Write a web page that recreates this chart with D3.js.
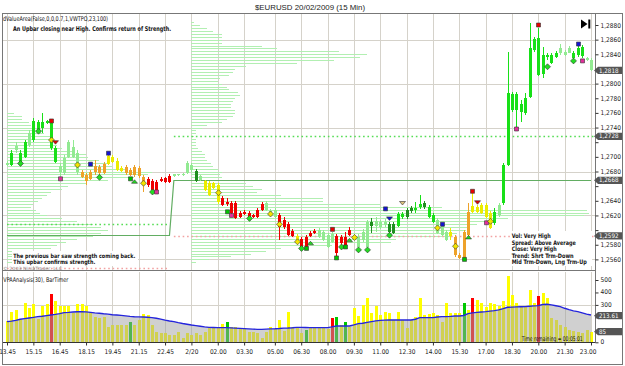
<!DOCTYPE html>
<html>
<head>
<meta charset="utf-8">
<script src="https://cdn.jsdelivr.net/npm/d3@7/dist/d3.min.js"></script>
<style>
  body { margin: 0; background: #fff; }
  svg { display: block; }
</style>
</head>
<body>
<script>
// bar kinds as painted by the VSA indicator
const kind = ['lg','g','lg','g','g','lg','g','g','g','g',
  'g','g','lg','lg','lg','lg','lg','o','o','o',
  'o','o','o','y','y','y','y','o','o','o',
  'o','o','r','r','r','r','r','r','lg','lg',
  'lg','lg','lg','dg','lg','y','y','y','y','r',
  'r','r','r','r','r','r','r','r','r','lg',
  'lg','lg','r','r','r','r','y','r','r','r',
  'r','lg','lg','lg','lg','r','r','r','r','y',
  'lg','lg','lg','dg','lg','lg','lg','dg','dg','g',
  'g','dg','dg','g','g','dg','g','g','lg','lg',
  'lg','y','o','o','o','o','y','y','y','y',
  'y','g','lg','g','g','g','g','g','g','g',
  'g','g','g','g','g','g','lg','lg','lg','g',
  'g','g','lg','lg'];

const open = [1.2689,1.2689,1.2709,1.2690,1.2700,1.2716,1.2723,1.2735,1.2739,1.2746,
  1.2712,1.2712,1.2687,1.2678,1.2700,1.2713,1.2705,1.2679,1.2675,1.2670,
  1.2679,1.2686,1.2678,1.2690,1.2693,1.2694,1.2685,1.2678,1.2682,1.2675,
  1.2685,1.2672,1.2670,1.2667,1.2666,1.2670,1.2671,1.2674,1.2674,1.2675,
  1.2675,1.2678,1.2682,1.2681,1.2668,1.2667,1.2664,1.2657,1.2661,1.2644,
  1.2638,1.2637,1.2637,1.2623,1.2625,1.2623,1.2620,1.2627,1.2635,1.2627,
  1.2623,1.2618,1.2620,1.2614,1.2608,1.2599,1.2592,1.2588,1.2590,1.2596,
  1.2599,1.2590,1.2586,1.2577,1.2584,1.2592,1.2590,1.2590,1.2600,1.2592,
  1.2577,1.2586,1.2577,1.2605,1.2605,1.2604,1.2607,1.2608,1.2596,1.2605,
  1.2618,1.2618,1.2626,1.2627,1.2631,1.2631,1.2631,1.2620,1.2614,1.2607,
  1.2597,1.2597,1.2590,1.2566,1.2559,1.2593,1.2633,1.2631,1.2634,1.2634,
  1.2623,1.2610,1.2620,1.2637,1.2689,1.2764,1.2786,1.2761,1.2760,1.2782,
  1.2846,1.2862,1.2813,1.2836,1.2828,1.2836,1.2842,1.2839,1.2842,1.2835,
  1.2839,1.2838,1.2832,1.2832];
const high = [1.2694,1.2709,1.2720,1.2709,1.2723,1.2737,1.2753,1.2750,1.2760,1.2750,
  1.2747,1.2715,1.2691,1.2702,1.2723,1.2723,1.2709,1.2682,1.2678,1.2682,
  1.2696,1.2689,1.2693,1.2704,1.2702,1.2698,1.2687,1.2689,1.2685,1.2689,
  1.2687,1.2675,1.2672,1.2670,1.2668,1.2672,1.2672,1.2676,1.2677,1.2677,
  1.2678,1.2694,1.2691,1.2683,1.2675,1.2668,1.2667,1.2666,1.2664,1.2646,
  1.2644,1.2640,1.2640,1.2626,1.2627,1.2626,1.2622,1.2630,1.2638,1.2640,
  1.2629,1.2630,1.2623,1.2618,1.2611,1.2601,1.2595,1.2590,1.2593,1.2599,
  1.2601,1.2603,1.2600,1.2596,1.2597,1.2595,1.2593,1.2597,1.2604,1.2595,
  1.2595,1.2601,1.2614,1.2616,1.2618,1.2614,1.2615,1.2611,1.2611,1.2625,
  1.2625,1.2630,1.2633,1.2638,1.2648,1.2640,1.2634,1.2623,1.2616,1.2610,
  1.2600,1.2603,1.2593,1.2569,1.2600,1.2637,1.2651,1.2634,1.2637,1.2637,
  1.2626,1.2630,1.2637,1.2691,1.2843,1.2788,1.2788,1.2778,1.2787,1.2883,
  1.2864,1.2876,1.2850,1.2842,1.2842,1.2844,1.2854,1.2846,1.2851,1.2844,
  1.2851,1.2853,1.2836,1.2835];
const low = [1.2687,1.2687,1.2705,1.2687,1.2698,1.2713,1.2720,1.2732,1.2732,1.2745,
  1.2709,1.2691,1.2671,1.2675,1.2698,1.2698,1.2675,1.2671,1.2661,1.2668,
  1.2675,1.2675,1.2676,1.2689,1.2691,1.2681,1.2679,1.2675,1.2674,1.2672,
  1.2671,1.2652,1.2659,1.2653,1.2652,1.2666,1.2664,1.2664,1.2673,1.2674,
  1.2674,1.2676,1.2679,1.2666,1.2667,1.2653,1.2646,1.2656,1.2635,1.2633,
  1.2633,1.2622,1.2615,1.2616,1.2620,1.2616,1.2616,1.2616,1.2626,1.2626,
  1.2622,1.2616,1.2586,1.2601,1.2592,1.2590,1.2582,1.2575,1.2575,1.2590,
  1.2595,1.2589,1.2585,1.2575,1.2582,1.2562,1.2578,1.2575,1.2592,1.2588,
  1.2574,1.2584,1.2575,1.2596,1.2597,1.2601,1.2604,1.2595,1.2595,1.2604,
  1.2615,1.2615,1.2623,1.2623,1.2629,1.2629,1.2616,1.2610,1.2595,1.2592,
  1.2585,1.2586,1.2563,1.2560,1.2558,1.2592,1.2623,1.2623,1.2622,1.2616,
  1.2601,1.2607,1.2618,1.2634,1.2687,1.2761,1.2739,1.2747,1.2757,1.2780,
  1.2843,1.2810,1.2808,1.2832,1.2827,1.2835,1.2839,1.2838,1.2842,1.2834,
  1.2836,1.2835,1.2831,1.2817];
const close = [1.2691,1.2705,1.2715,1.2705,1.2720,1.2732,1.2749,1.2747,1.2747,1.2749,
  1.2746,1.2693,1.2679,1.2698,1.2720,1.2700,1.2679,1.2672,1.2667,1.2679,
  1.2687,1.2678,1.2690,1.2701,1.2700,1.2682,1.2681,1.2686,1.2675,1.2686,
  1.2674,1.2661,1.2661,1.2655,1.2653,1.2667,1.2666,1.2666,1.2676,1.2676,
  1.2676,1.2691,1.2689,1.2667,1.2674,1.2655,1.2648,1.2664,1.2638,1.2634,
  1.2635,1.2623,1.2616,1.2618,1.2622,1.2618,1.2618,1.2618,1.2627,1.2637,
  1.2626,1.2627,1.2604,1.2604,1.2593,1.2592,1.2584,1.2577,1.2577,1.2592,
  1.2596,1.2600,1.2597,1.2593,1.2595,1.2569,1.2582,1.2577,1.2593,1.2589,
  1.2590,1.2597,1.2611,1.2611,1.2612,1.2611,1.2611,1.2597,1.2608,1.2622,
  1.2622,1.2627,1.2630,1.2630,1.2635,1.2637,1.2618,1.2611,1.2596,1.2593,
  1.2586,1.2592,1.2566,1.2562,1.2597,1.2625,1.2625,1.2625,1.2623,1.2618,
  1.2603,1.2625,1.2634,1.2689,1.2787,1.2786,1.2764,1.2772,1.2780,1.2849,
  1.2861,1.2812,1.2839,1.2839,1.2839,1.2842,1.2849,1.2843,1.2849,1.2842,
  1.2849,1.2850,1.2835,1.2818];

const volume = [174,246,259,185,313,273,305,185,294,305,
  386,334,291,291,291,238,305,305,291,233,
  206,193,206,126,139,139,139,139,161,139,
  179,227,219,139,85,72,77,59,59,85,
  32,72,59,72,59,85,112,112,126,147,
  166,126,126,112,112,85,85,72,32,85,
  126,104,179,91,246,120,112,72,99,126,
  112,112,112,104,198,201,139,166,120,273,
  211,300,353,233,291,219,246,233,179,241,
  179,112,179,206,358,219,227,233,219,166,
  313,233,238,233,318,259,353,340,318,286,
  313,308,291,334,532,380,313,291,291,420,
  313,372,393,353,193,179,139,126,99,93,
  85,72,99,85];
const volumeAvg = [166,170,176,185,190,195,200,206,209,214,
  219,224,230,238,240,243,245,246,244,240,
  236,233,229,226,221,219,216,212,208,205,
  204,203,201,198,193,186,178,171,166,158,
  151,145,139,134,129,124,120,119,118,118,
  118,116,114,112,110,108,106,104,104,106,
  108,109,111,114,115,117,120,120,119,118,
  118,118,118,118,124,131,131,131,131,140,
  150,153,160,166,172,176,178,179,179,179,
  179,179,179,185,198,198,198,198,203,206,
  206,208,211,211,215,230,236,240,243,246,
  250,254,260,270,281,282,284,285,286,289,
  292,294,303,305,300,293,286,273,262,252,
  246,236,226,219];

// [bar, shape, colour, price]
const signals = [
  [3,'diamond','green',1.2691],[7,'diamond','green',1.2735],[10,'square','red',1.2749],
  [10,'diamond','yellow',1.2723],[11,'triDown','red',1.2720],[12,'square','magenta',1.2670],
  [16,'diamond','yellow',1.2689],[19,'square','blue',1.2690],[21,'diamond','green',1.2672],
  [23,'square','blue',1.2705],[28,'square','green',1.2670],[29,'triUp','green',1.2666],
  [31,'diamond','yellow',1.2664],[33,'diamond','green',1.2652],[34,'square','magenta',1.2652],
  [48,'diamond','yellow',1.2651],[50,'square','green',1.2625],[51,'square','magenta',1.2620],
  [55,'diamond','green',1.2616],[60,'diamond','yellow',1.2622],[62,'diamond','yellow',1.2608],
  [66,'diamond','yellow',1.2584],[67,'diamond','green',1.2575],[68,'square','green',1.2575],
  [69,'triUp','green',1.2582],[74,'square','red',1.2601],[75,'square','green',1.2562],
  [76,'diamond','green',1.2577],[77,'square','green',1.2577],[78,'triUp','green',1.2586],
  [79,'diamond','yellow',1.2590],[80,'diamond','green',1.2573],[82,'diamond','green',1.2573],
  [86,'square','blue',1.2629],[87,'triDown','blue',1.2616],[87,'diamond','green',1.2593],
  [90,'triDown','tan',1.2637],[98,'diamond','yellow',1.2603],[99,'square','blue',1.2608],
  [102,'diamond','yellow',1.2578],[104,'square','green',1.2560],[105,'triUp','green',1.2590],
  [106,'square','red',1.2653],[107,'triDown','red',1.2638],[109,'square','magenta',1.2610],
  [110,'diamond','yellow',1.2612],[116,'square','magenta',1.2738],[121,'square','red',1.2880],
  [123,'diamond','green',1.2823],[129,'diamond','green',1.2831],[130,'square','blue',1.2854],
  [131,'square','magenta',1.2831]
];

// value area profiles (TPO counts per 4 pip row, from the top row down)
const profileTop = [1.2760, 1.2884];
const profileStartBar = [0, 42];
const profileRow = 0.0004;
const profileDay1 = [1.5,3.5,3.5,5,5.5,6,8,8.5,10,10.5,
  10.5,11.5,12.5,15,18,18.5,21,23,24,27.5,
  33,32,29,23,18,14,12.5,10,9,8,
  7,6,5.5,6.5,7.5,9,12.5,16,19.5,21.5,
  23,21.5,19.5,16,13.5,11.5,10,9,7,5.5,
  4.5,2.5];
const profileDay2 = [0.5,2,3.5,5,7,7,7,7,16,19.5,
  33.5,40,38.5,32.5,24,12.5,10,9.5,8.5,6.5,
  6,7,8,8.5,10.5,11,10,9.5,9,9,
  10,10,9.5,8,7,3.5,2.5,1,1,0.5,
  1,1,1,1.5,2.5,3,3,3.5,4.5,5,
  6,7,6.5,7,7.5,12.5,14,16,15,20.5,
  30,30,43,57,90,90.5,89.5,72,68.5,65,
  63.5,62.5,60.5,59,46.5,45.5,32,20.5,17,13.5,
  9,4,1];

// session levels: [fromBar, toBar, price, style]
const levels = [
  [0, 37, 1.2608, 'vaGreen'], [38, 134, 1.2728, 'vaGreen'],
  [0, 37, 1.2548, 'vaPink'], [38, 134, 1.2592, 'vaPink']
];
const pocBars = [0, 37, 38, 133];
const pocValues = [1.2593, 1.2593, 1.2668, 1.2668];

const timeLabels = ['13.45','15.15','16.45','18.15','19.45','21.15','22.45','2/20','02.00','03.30',
  '05.00','06.30','08.00','09.30','11.00','12.30','14.00','15.30','17.00','18.30','20.00','21.30','23.00'];
const timeBars = [0,6,12,18,24,30,36,42,48,54,61,67,73,79,85,91,97,103,109,115,121,127,133];
const priceTicks = [1.2560,1.2580,1.2600,1.2620,1.2640,1.2660,1.2680,1.2700,1.2720,1.2740,
  1.2760,1.2780,1.2800,1.2820,1.2840,1.2860,1.2880];
const priceGrid = [1.2560,1.2620,1.2680,1.2740,1.2800,1.2860];
const volumeTicks = [0,100,200,300,400,500];
const priceTags = [1.2818, 1.2728, 1.2668, 1.2592];
const volumeTags = [213.61, 85];

const FONT = '"Liberation Sans Narrow","DejaVu Sans Condensed","Liberation Sans",Arial,sans-serif';
const barColor = { g: '#18e018', lg: '#92ea92', dg: '#1f8f1f', y: '#ecec00', o: '#eea22a', r: '#ee0000' };
const markColor = { green: '#22dd22', yellow: '#f2e400', red: '#e80000', blue: '#1414d2', magenta: '#e0309a', tan: '#dcc27a' };

const x = d3.scaleLinear().domain([0, 133]).range([7, 591]);
const y = d3.scaleLinear().domain([1.2560, 1.2880]).range([259.4, 25]);
const yv = d3.scaleLinear().domain([0, 500]).range([342.3, 280]);
const cx = i => Math.round(x(i));
const fmtPrice = d => d3.format('.4f')(d).replace('.', ',');

const svg = d3.select('body').append('svg')
    .attr('width', 625)
    .attr('height', 366)
    .style('font-family', FONT);

svg.append('rect').attr('width', 625).attr('height', 366).attr('fill', '#fff');

svg.append('clipPath').attr('id', 'mainClip')
  .append('rect').attr('x', 3).attr('y', 14).attr('width', 592).attr('height', 256);

// grid
const grid = svg.append('g').attr('stroke', '#d5d2ca').attr('shape-rendering', 'crispEdges');
grid.selectAll('.gv').data(timeBars).enter().append('line')
    .attr('x1', d => cx(d) + 0.5).attr('x2', d => cx(d) + 0.5)
    .attr('y1', 14).attr('y2', 270);
grid.selectAll('.gvv').data(timeBars).enter().append('line')
    .attr('x1', d => cx(d) + 0.5).attr('x2', d => cx(d) + 0.5)
    .attr('y1', 272).attr('y2', 342);
grid.selectAll('.gh').data(priceGrid).enter().append('line')
    .attr('x1', 3).attr('x2', 595)
    .attr('y1', d => Math.round(y(d)) + 0.5).attr('y2', d => Math.round(y(d)) + 0.5);
grid.append('line')
    .attr('x1', 3).attr('x2', 595)
    .attr('y1', Math.round(yv(300)) + 0.5).attr('y2', Math.round(yv(300)) + 0.5);

const main = svg.append('g').attr('clip-path', 'url(#mainClip)');

// profiles
const step = x(1) - x(0);
const prof = main.append('g').attr('fill', '#b2efb2').attr('shape-rendering', 'crispEdges');
[profileDay1, profileDay2].forEach((rows, s) => {
  prof.selectAll(null).data(rows).enter().append('rect')
      .attr('x', x(profileStartBar[s]))
      .attr('y', (d, k) => Math.round(y(profileTop[s] - k * profileRow)))
      .attr('width', d => d * step)
      .attr('height', 1);
});

// session lines
main.append('path')
    .attr('fill', 'none')
    .attr('stroke', '#62ad62')
    .attr('stroke-width', 1.2)
    .attr('d', d3.line().x(d => x(d[0])).y(d => Math.round(y(d[1])) + 0.5)(pocBars.map((b, i) => [b, pocValues[i]])));

main.selectAll('.lvl').data(levels).enter().append('line')
    .attr('x1', d => x(d[0])).attr('x2', d => x(d[1]))
    .attr('y1', d => Math.round(y(d[2])) + 0.5).attr('y2', d => Math.round(y(d[2])) + 0.5)
    .attr('stroke', d => d[3] === 'vaGreen' ? '#55dd55' : '#f2a2a2')
    .attr('stroke-width', 1.6)
    .attr('stroke-dasharray', '1.6,2.8');

// candles
const bars = d3.range(open.length).map(i => ({ i, o: open[i], h: high[i], l: low[i], c: close[i], k: kind[i] }));
const candle = main.append('g').attr('shape-rendering', 'crispEdges')
  .selectAll('g').data(bars).enter().append('g')
    .attr('fill', d => barColor[d.k]);
candle.append('rect')
    .attr('x', d => cx(d.i)).attr('width', 1)
    .attr('y', d => y(d.h)).attr('height', d => Math.max(1, y(d.l) - y(d.h)));
candle.append('rect')
    .attr('x', d => cx(d.i) - 1).attr('width', 3)
    .attr('y', d => y(Math.max(d.o, d.c)))
    .attr('height', d => Math.max(1, Math.abs(y(d.o) - y(d.c))));

// signal markers
const shapes = {
  square: 'M-2,-2H2V2H-2Z',
  diamond: 'M0,-3L3,0L0,3L-3,0Z',
  triUp: 'M-3,1.5L3,1.5L0,-2Z',
  triDown: 'M-3,-1.5L3,-1.5L0,2Z'
};
main.append('g').selectAll('path').data(signals).enter().append('path')
    .attr('transform', d => `translate(${cx(d[0]) + 0.5},${y(d[3])})`)
    .attr('d', d => shapes[d[1]])
    .attr('fill', d => d[1] === 'square' && d[2] === 'green' ? '#00c400' : markColor[d[2]])
    .attr('stroke', '#333')
    .attr('stroke-width', 0.6);

// text notes
const note = (g, x0, y0, str, w, opts = {}) => g.append('text')
    .attr('x', x0).attr('y', y0)
    .attr('font-size', opts.size || 6.5)
    .attr('font-weight', opts.bold ? 'bold' : null)
    .attr('fill', opts.fill || '#111')
    .attr('textLength', w).attr('lengthAdjust', 'spacingAndGlyphs')
    .text(str);

const notes = svg.append('g');
note(notes, 3, 20.8, 'dValueArea(False,0,0,0.7,1,VWTPO,23,100)', 105);
note(notes, 13, 31, 'An Upbar closing near High. Confirms return of Strength.', 158, { bold: true });
notes.append('rect').attr('x', 12).attr('y', 251).attr('width', 126).attr('height', 15).attr('fill', '#fff');
note(notes, 13.3, 257.6, 'The previous bar saw strength coming back.', 122, { bold: true, size: 6 });
note(notes, 13.3, 264.3, 'This upbar confirms strength.', 82, { bold: true, size: 6 });
note(notes, 3, 269.6, '\u00a9 2003 NinjaTrader, LLC', 59, { size: 4.4, fill: '#8a8a8a' });
notes.append('rect').attr('x', 510).attr('y', 231).attr('width', 82).attr('height', 35).attr('fill', '#fff');
const vsaLines = ['Vol: Very High', 'Spread: Above Average', 'Close: Very High', 'Trend: Shrt Trm-Down', 'Mid Trm-Down, Lng Trm-Up'];
const vsaWidths = [39, 64, 45, 62, 75];
vsaLines.forEach((s, i) => note(notes, 511.7, 238 + i * 6.5, s, vsaWidths[i], { bold: true, size: 6.2 }));

// play-to-end icon
svg.append('path').attr('d', 'M581,19.5L587.5,24L581,28.5Z').attr('fill', '#000');
svg.append('rect').attr('x', 588.3).attr('y', 19.5).attr('width', 2).attr('height', 9).attr('fill', '#000');

// volume panel
const volColorOf = i => {
  const s = signals.find(d => d[0] === i && d[1] === 'square' && (d[2] === 'red' || d[2] === 'green'));
  return s ? (s[2] === 'red' ? '#ff0000' : '#00c800') : '#ffff00';
};
const vol = svg.append('g');
vol.append('g').attr('shape-rendering', 'crispEdges')
  .selectAll('rect').data(volume).enter().append('rect')
    .attr('x', (d, i) => cx(i) - 1).attr('width', 3)
    .attr('y', d => yv(d)).attr('height', d => yv(0) - yv(d))
    .attr('fill', (d, i) => volColorOf(i));
vol.append('path')
    .attr('fill', '#a2a2a2').attr('fill-opacity', 0.5)
    .attr('d', d3.area().x((d, i) => x(i)).y0(yv(0)).y1(d => yv(d))(volumeAvg));
vol.append('path')
    .attr('fill', 'none').attr('stroke', '#2424dc').attr('stroke-width', 1.4)
    .attr('d', d3.line().x((d, i) => x(i)).y(d => yv(d))(volumeAvg));
note(svg, 3.3, 282.3, 'VPAAnalysis(30), BarTimer', 65);
note(svg, 521.7, 340.6, 'Time remaining = 00:05:01', 61);

// frames
const frame = svg.append('g').attr('stroke', '#777').attr('fill', 'none').attr('shape-rendering', 'crispEdges');
frame.append('rect').attr('x', 2.5).attr('y', 13.5).attr('width', 620).attr('height', 351);
frame.append('line').attr('x1', 3).attr('x2', 595).attr('y1', 270.5).attr('y2', 270.5);
frame.append('line').attr('x1', 595.5).attr('x2', 595.5).attr('y1', 14).attr('y2', 343);
frame.append('line').attr('x1', 3).attr('x2', 595).attr('y1', 342.5).attr('y2', 342.5).attr('stroke', '#333');

// axes; labels that sit under a value tag are hidden, as in the platform
const tagYs = priceTags.map(p => y(p)).concat(volumeTags.map(v => yv(v)));
const styleAxis = (g, scale) => {
  g.select('.domain').remove();
  g.selectAll('line').attr('stroke', '#333');
  g.selectAll('text').attr('font-family', FONT).attr('font-size', 6.5).attr('fill', '#222');
  g.attr('font-family', null).attr('font-size', null);
  if (scale) {
    g.selectAll('.tick text')
        .filter(d => tagYs.some(t => Math.abs(t - scale(d)) < 6.5))
        .remove();
  }
};
svg.append('g').attr('transform', 'translate(595.5,0)')
    .call(d3.axisRight(y).tickValues(priceTicks).tickSize(3).tickPadding(2).tickFormat(fmtPrice))
    .call(styleAxis, y);
svg.append('g').attr('transform', 'translate(595.5,0)')
    .call(d3.axisRight(yv).tickValues(volumeTicks).tickSize(3).tickPadding(2))
    .call(styleAxis, yv)
    .call(g => g.selectAll('.tick text').attr('dy', '0.2em'));
svg.append('g').attr('transform', 'translate(0,342.5)')
    .call(d3.axisBottom(x).tickValues(timeBars).tickSize(3).tickPadding(3.5).tickFormat((d, i) => timeLabels[i]))
    .call(styleAxis, null)
    .call(g => g.selectAll('.tick:last-of-type text').attr('text-anchor', 'end').attr('dx', '5'));

// value tags on the right axis
const tag = (yy, str) => {
  const g = svg.append('g');
  g.append('path')
      .attr('d', `M594,${yy}L598,${yy - 3.6}H622V${yy + 3.6}H598Z`)
      .attr('fill', '#555');
  g.append('text').attr('x', 599).attr('y', yy).attr('dy', '0.34em')
      .attr('font-size', 6.2).attr('fill', '#fff').text(str);
};
priceTags.forEach(p => tag(y(p), fmtPrice(p)));
volumeTags.forEach(v => tag(yv(v), String(v)));

// title
svg.append('text')
    .attr('x', 310).attr('y', 9.6)
    .attr('text-anchor', 'middle')
    .attr('font-family', '"Liberation Sans",Arial,sans-serif')
    .attr('font-size', 8)
    .attr('fill', '#222')
    .attr('textLength', 110).attr('lengthAdjust', 'spacingAndGlyphs')
    .text('$EURUSD  20/02/2009 (15 Min)');
</script>
</body>
</html>
